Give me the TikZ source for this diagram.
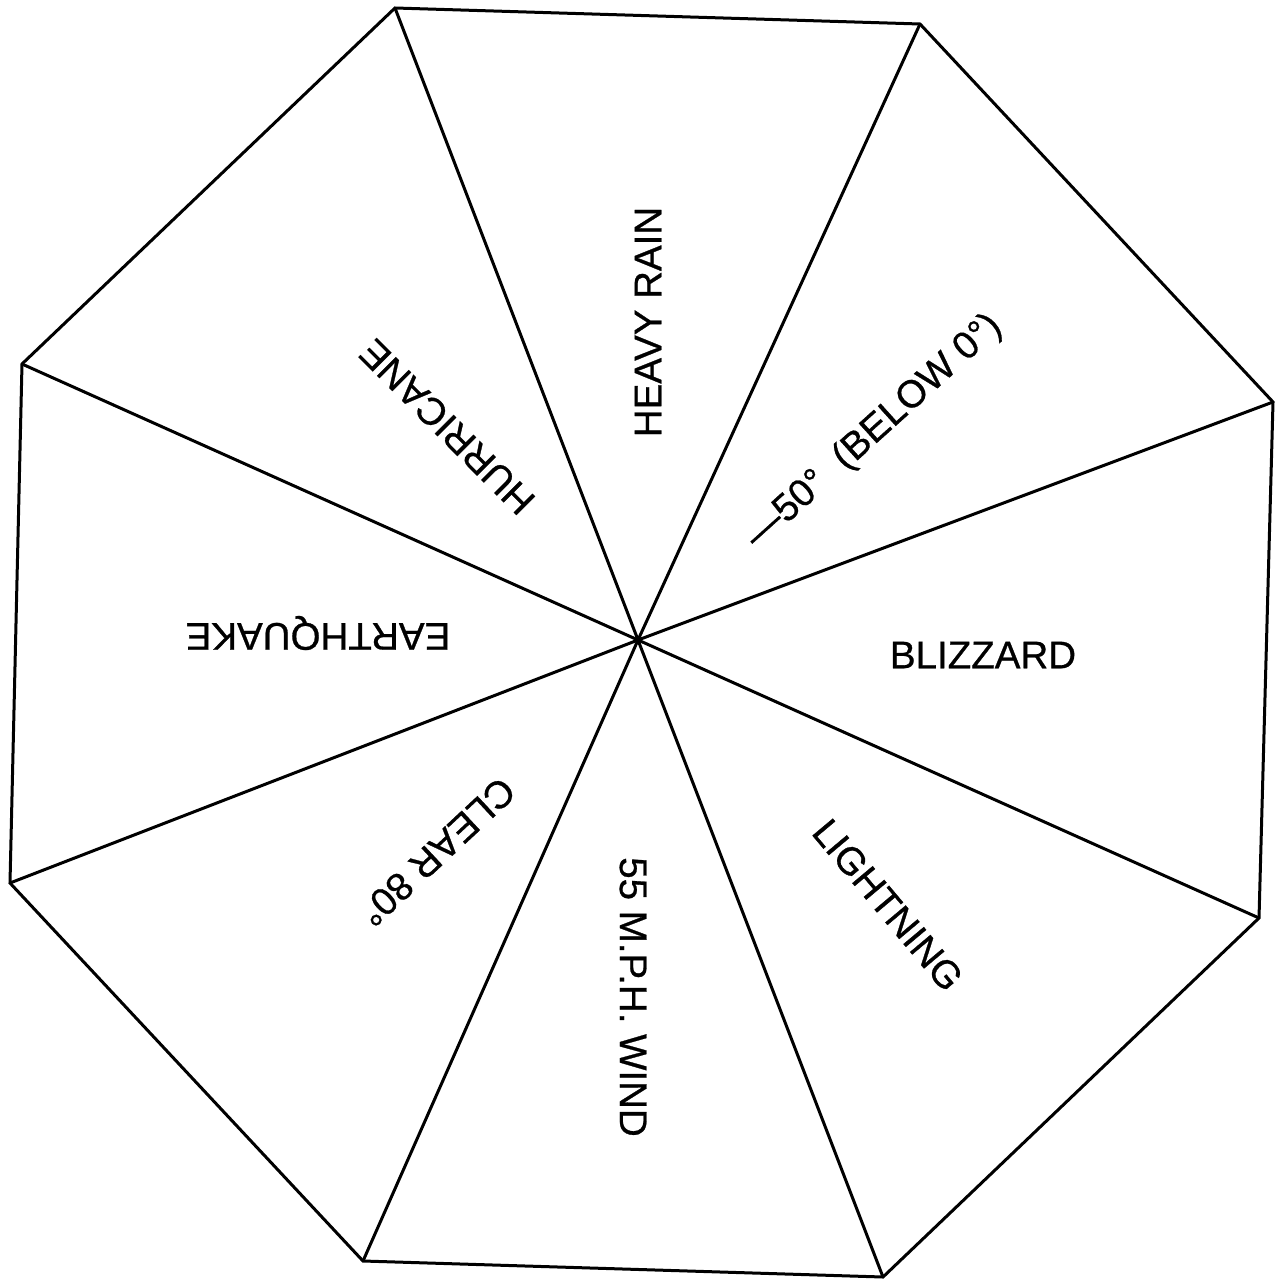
\documentclass[tikz,border=0pt]{standalone}
\usepackage{fontspec}
\setmainfont{Liberation Sans}
\newfontfamily\lblfont{Liberation Sans}[FakeBold=0.7]
\begin{document}
\begin{tikzpicture}[x=1pt,y=-1pt,
  edge/.style={line width=3pt,line join=miter},
  lbl/.style={font=\lblfont\fontsize{38.5}{40}\selectfont,inner sep=0pt}]
\useasboundingbox (0,0) rectangle (1277,1281);
\coordinate (c) at (638,640);
\coordinate (v1) at (395,8);
\coordinate (v2) at (920,24);
\coordinate (v3) at (1273,402);
\coordinate (v4) at (1259,918);
\coordinate (v5) at (883,1277);
\coordinate (v6) at (363,1261);
\coordinate (v7) at (10,883);
\coordinate (v8) at (22,364);
\draw[edge] (v1) -- (v2) -- (v3) -- (v4) -- (v5) -- (v6) -- (v7) -- (v8) -- cycle;
\foreach \v in {v1,v2,v3,v4,v5,v6,v7,v8} \draw[edge] (c) -- (\v);
\node[lbl,rotate=90] (heavy) at (648,322) {HEAVY RAIN};
\node[lbl,rotate=42] (below) at (874,432) {—50° \ (BELOW 0°)};
\node[lbl] (blizz) at (983,655) {BLIZZARD};
\node[lbl,rotate=-50] (light) at (888,905) {LIGHTNING};
\node[lbl,rotate=-90] (wind) at (633,997) {55 M.P.H. WIND};
\node[lbl,rotate=-137] (clear) at (437,852) {CLEAR 80°};
\node[lbl,rotate=180] (earth) at (318,633) {EARTHQUAKE};
\node[lbl,rotate=135] (hurr) at (447,427) {HURRICANE};
\end{tikzpicture}
\end{document}
